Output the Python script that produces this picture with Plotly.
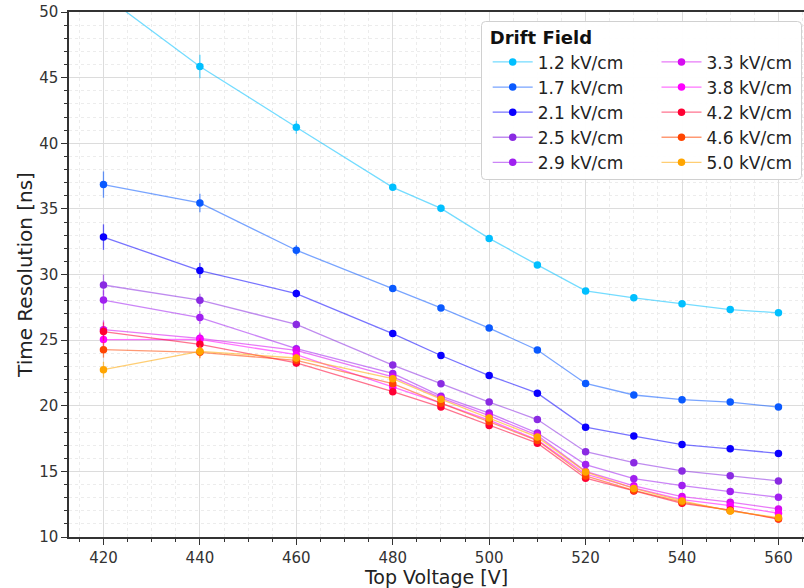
import plotly.graph_objects as go

voltages = [420, 440, 460, 480, 490, 500, 510, 520, 530, 540, 550, 560]

field_labels = ["1.2 kV/cm", "1.7 kV/cm", "2.1 kV/cm", "2.5 kV/cm", "2.9 kV/cm",
                "3.3 kV/cm", "3.8 kV/cm", "4.2 kV/cm", "4.6 kV/cm", "5.0 kV/cm"]

res_1p2 = [51.3, 45.85, 41.22, 36.64, 35.04, 32.75, 30.73, 28.75, 28.22, 27.77, 27.33, 27.08]
res_1p7 = [36.85, 35.45, 31.85, 28.93, 27.45, 25.92, 24.25, 21.70, 20.82, 20.46, 20.28, 19.90]
res_2p1 = [32.85, 30.30, 28.55, 25.50, 23.83, 22.30, 20.96, 18.37, 17.69, 17.04, 16.72, 16.37]
res_2p5 = [29.20, 28.04, 26.20, 23.10, 21.68, 20.28, 18.95, 16.50, 15.66, 15.03, 14.66, 14.27]
res_2p9 = [28.05, 26.72, 24.35, 22.46, 20.73, 19.44, 17.92, 15.52, 14.44, 13.92, 13.46, 13.03]
res_3p3 = [25.80, 25.14, 24.22, 22.20, 20.60, 19.24, 17.75, 15.00, 13.90, 13.08, 12.65, 12.14]
res_3p8 = [25.04, 25.05, 23.89, 21.43, 20.20, 18.90, 17.40, 14.80, 13.75, 12.85, 12.39, 11.81]
res_4p2 = [25.65, 24.68, 23.26, 21.07, 19.90, 18.50, 17.15, 14.48, 13.50, 12.57, 12.05, 11.37]
res_4p6 = [24.27, 24.07, 23.46, 21.68, 20.20, 18.80, 17.35, 14.65, 13.55, 12.65, 12.00, 11.40]
res_5p0 = [22.75, 24.15, 23.64, 22.06, 20.50, 19.06, 17.61, 14.96, 13.70, 12.75, 11.98, 11.48]

err_1p2 = [1.0, 0.9, 0.5, 0.2, 0.15, 0.12, 0.1, 0.1, 0.08, 0.08, 0.08, 0.08]
err_1p7 = [1.0, 0.7, 0.4, 0.2, 0.15, 0.12, 0.1, 0.1, 0.08, 0.08, 0.08, 0.08]
err_2p1 = [0.97, 0.57, 0.3, 0.15, 0.12, 0.1, 0.1, 0.08, 0.08, 0.08, 0.08, 0.08]
err_2p5 = [0.8, 0.5, 0.3, 0.15, 0.12, 0.1, 0.1, 0.08, 0.08, 0.08, 0.08, 0.08]
err_2p9 = [0.75, 0.5, 0.3, 0.15, 0.12, 0.1, 0.1, 0.08, 0.08, 0.08, 0.08, 0.08]
err_3p3 = [0.7, 0.45, 0.3, 0.15, 0.12, 0.1, 0.1, 0.08, 0.08, 0.08, 0.08, 0.08]
err_3p8 = [0.6, 0.45, 0.3, 0.15, 0.12, 0.1, 0.1, 0.08, 0.08, 0.08, 0.08, 0.08]
err_4p2 = [0.7, 0.45, 0.3, 0.15, 0.12, 0.1, 0.1, 0.08, 0.08, 0.08, 0.08, 0.08]
err_4p6 = [0.6, 0.45, 0.3, 0.15, 0.12, 0.1, 0.1, 0.08, 0.08, 0.08, 0.08, 0.08]
err_5p0 = [0.6, 0.45, 0.3, 0.15, 0.12, 0.1, 0.1, 0.08, 0.08, 0.08, 0.08, 0.08]

series = [res_1p2, res_1p7, res_2p1, res_2p5, res_2p9, res_3p3, res_3p8, res_4p2, res_4p6, res_5p0]
errors = [err_1p2, err_1p7, err_2p1, err_2p5, err_2p9, err_3p3, err_3p8, err_4p2, err_4p6, err_5p0]

colors = ["#00bfff", "#0a5aff", "#0a00ff", "#8a2be2", "#a020f0",
          "#d60cf0", "#ff00ff", "#ff0033", "#ff4500", "#ffa500"]


def rgba(hex_color, a):
    h = hex_color.lstrip("#")
    r, g, b = int(h[0:2], 16), int(h[2:4], 16), int(h[4:6], 16)
    return f"rgba({r},{g},{b},{a})"


FONT = "DejaVu Sans"
fig = go.Figure()

for i, (lab, ys, es, c) in enumerate(zip(field_labels, series, errors, colors)):
    fig.add_trace(go.Scatter(
        x=voltages, y=ys, name=lab, mode="lines+markers",
        line=dict(color=rgba(c, 0.55), width=1.3),
        marker=dict(color=c, size=7.5, line=dict(width=0)),
        error_y=dict(type="data", array=es, visible=True, color=rgba(c, 0.6),
                     thickness=1.3, width=0),
        legend="legend" if i < 5 else "legend2",
        cliponaxis=True,
    ))

# plot area geometry (pixels) for placing legend box
L, R, T, B = 69, 804, 12, 537
W, H = R - L, B - T


def px_x(p):
    return (p - L) / W


def px_y(p):
    return (B - p) / H


bx0, bx1, by0, by1 = 481.5, 801.5, 179.5, 21.5
rr = 4
path = (
    f"M {px_x(bx0 + rr)},{px_y(by1)} L {px_x(bx1 - rr)},{px_y(by1)} "
    f"Q {px_x(bx1)},{px_y(by1)} {px_x(bx1)},{px_y(by1 + rr)} "
    f"L {px_x(bx1)},{px_y(by0 - rr)} Q {px_x(bx1)},{px_y(by0)} {px_x(bx1 - rr)},{px_y(by0)} "
    f"L {px_x(bx0 + rr)},{px_y(by0)} Q {px_x(bx0)},{px_y(by0)} {px_x(bx0)},{px_y(by0 - rr)} "
    f"L {px_x(bx0)},{px_y(by1 + rr)} Q {px_x(bx0)},{px_y(by1)} {px_x(bx0 + rr)},{px_y(by1)} Z"
)
fig.add_shape(type="path", path=path, xref="paper", yref="paper",
              fillcolor="rgba(255,255,255,0.95)", line=dict(color="#d0d0d0", width=1),
              layer="above")

legend_common = dict(
    bgcolor="rgba(0,0,0,0)", borderwidth=0,
    font=dict(family=FONT, size=17, color="#222222"),
    itemwidth=40, tracegroupgap=0,
    yanchor="top", xanchor="left",
)

fig.update_layout(
    width=804, height=588,
    margin=dict(l=L, r=0, t=T, b=588 - B, autoexpand=False),
    paper_bgcolor="white", plot_bgcolor="white",
    font=dict(family=FONT, color="#222222"),
    showlegend=True,
    legend=dict(**legend_common, x=px_x(487.7), y=px_y(21),
                title=dict(text="<b>Drift Field</b>", font=dict(family=FONT, size=18, color="#111111"))),
    legend2=dict(**legend_common, x=px_x(656.5), y=px_y(21),
                 title=dict(text=" ", font=dict(family=FONT, size=18))),
    xaxis=dict(
        range=[412.85, 565.3], tickmode="array",
        tickvals=[420, 440, 460, 480, 500, 520, 540, 560],
        ticks="outside", ticklen=6, tickwidth=1.2, tickcolor="#333333",
        showline=True, linecolor="#333333", linewidth=1.5, mirror=True,
        showgrid=True, gridcolor="#dcdcdc", gridwidth=1,
        minor=dict(dtick=5, tick0=420, ticks="outside", ticklen=3, tickcolor="#333333",
                   showgrid=True, gridcolor="#ececec", griddash="dot", gridwidth=1),
        tickfont=dict(family=FONT, size=15, color="#333333"),
        title=dict(text="Top Voltage [V]", font=dict(family=FONT, size=19, color="#222222"), standoff=5),
        zeroline=False, automargin=False,
    ),
    yaxis=dict(
        range=[10, 50], tickmode="linear", tick0=10, dtick=5,
        ticks="outside", ticklen=6, tickwidth=1.2, tickcolor="#333333",
        showline=True, linecolor="#333333", linewidth=1.5, mirror=False,
        showgrid=True, gridcolor="#dcdcdc", gridwidth=1,
        minor=dict(dtick=1, ticks="outside", ticklen=3, tickcolor="#333333",
                   showgrid=True, gridcolor="#ececec", griddash="dot", gridwidth=1),
        tickfont=dict(family=FONT, size=15, color="#333333"),
        title=dict(text="Time Resolution [ns]", font=dict(family=FONT, size=20, color="#222222"), standoff=1),
        zeroline=False, automargin=False,
    ),
)

fig.write_html("out.html")
